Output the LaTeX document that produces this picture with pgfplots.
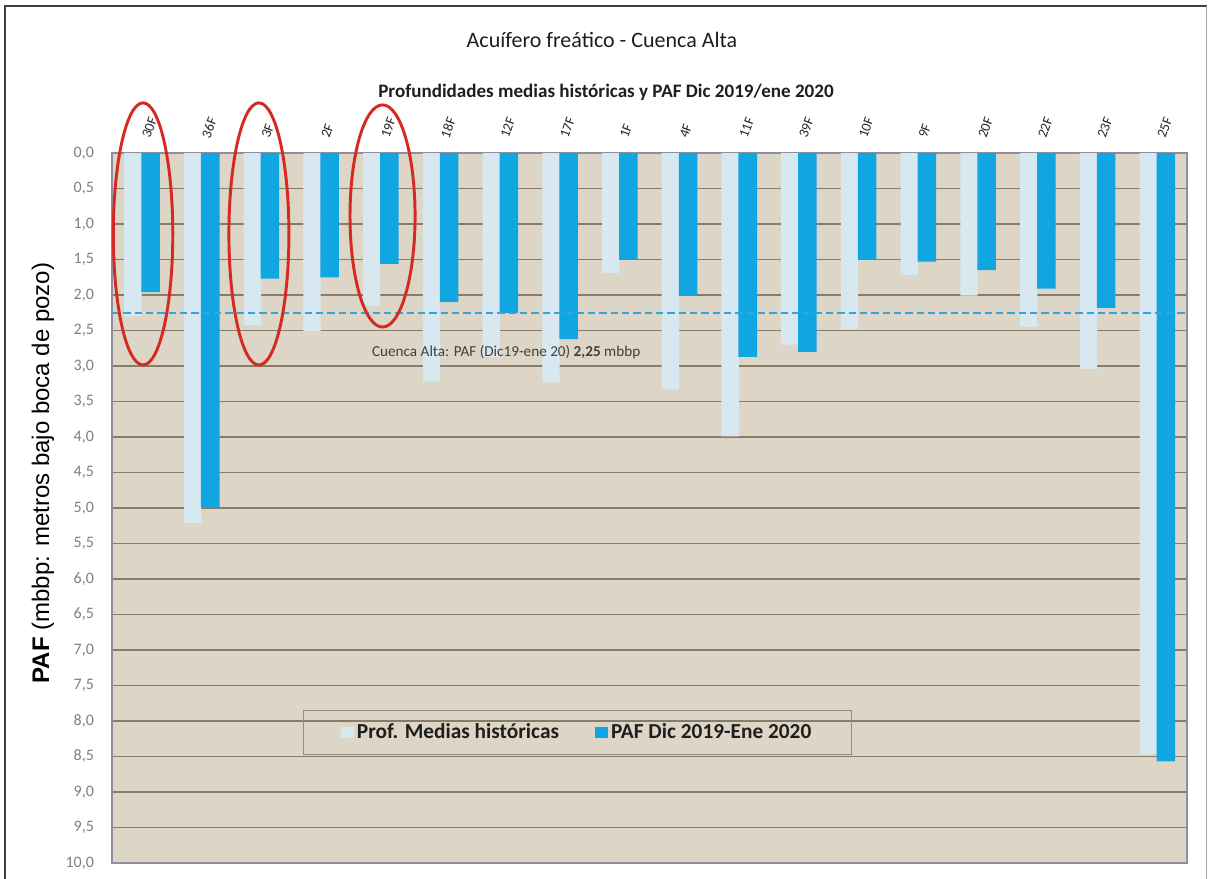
\documentclass[border=0pt]{standalone}
\usepackage{pgfplots}
\pgfplotsset{compat=1.18}
\usepackage{fontspec}
\setmainfont{Carlito}
\newfontfamily\arialfont{Liberation Sans}

\definecolor{bgbeige}{HTML}{DDD5C6}
\definecolor{gridbrown}{HTML}{877B6C}
\definecolor{histc}{HTML}{D7E8F1}
\definecolor{pafc}{HTML}{0FA6E2}
\definecolor{dashc}{HTML}{34A3DF}
\definecolor{ellred}{HTML}{D42A22}
\definecolor{tickgray}{HTML}{7F7F7F}
\definecolor{textdark}{HTML}{1E1E1E}
\definecolor{annot}{HTML}{404040}
\definecolor{framegray}{HTML}{8E8E9E}

\pgfplotsset{sqlegend/.style={legend image code/.code={\fill[##1] (0pt,-4pt) rectangle (10pt,4.5pt);}}}

\begin{document}
\begin{tikzpicture}
% page: 906pt x 659.25pt
\useasboundingbox (0,0) rectangle (906pt,659.25pt);
% outer frame
\draw[black!75, line width=1.5pt] (3.75pt,-5pt) -- (3.75pt,654.4pt) -- (904.9pt,654.4pt);
\draw[black!35, line width=1pt] (904.9pt,654.4pt) -- (904.9pt,-5pt);

\node[text=textdark, font=\fontsize{16.5}{19}\selectfont] at (451.5pt,629.25pt) {Acuífero freático - Cuenca Alta};
\node[text=textdark, font=\bfseries\fontsize{14.3}{17}\selectfont] at (454.5pt,590.25pt) {Profundidades medias históricas y PAF Dic 2019/ene 2020};
\node[rotate=90, text=black, font=\arialfont\fontsize{18}{21}\selectfont] at (32.25pt,304.5pt) {\textbf{PAF} (mbbp: metros bajo boca de pozo)};

\begin{axis}[
  at={(84pt,12pt)}, anchor=south west,
  width=806.25pt, height=532.5pt, scale only axis,
  clip=false,
  xmin=-0.5, xmax=17.5, ymin=0, ymax=10, y dir=reverse,
  xtick={0,1,...,17},
  xticklabels={30F,36F,3F,2F,19F,18F,12F,17F,1F,4F,11F,39F,10F,9F,20F,22F,23F,25F},
  xticklabel pos=upper,
  xticklabel style={xshift=3pt, yshift=11.5pt, rotate=70, anchor=west, inner sep=0pt,
    font=\fontsize{10.5}{12}\selectfont, text=black!85},
  ytick={0,0.5,1,1.5,2,2.5,3,3.5,4,4.5,5,5.5,6,6.5,7,7.5,8,8.5,9,9.5,10},
  yticklabel style={font=\fontsize{12}{14}\selectfont, text=tickgray, xshift=-10pt,
    /pgf/number format/.cd, fixed, fixed zerofill, precision=1, use comma, assume math mode=true},
  tick style={draw=none},
  ymajorgrids,
  grid style={draw=gridbrown, line width=1pt},
  axis background/.style={fill=bgbeige},
  axis line style={draw=framegray, line width=0.8pt},
  legend style={at={(0.4330,0.1838)}, anchor=center, draw=black!45, fill=none,
    font=\bfseries\fontsize{16}{19}\selectfont, text=textdark,
    inner xsep=28pt, inner ysep=8pt,
    /tikz/every even column/.append style={column sep=25pt}},
  legend columns=2,
]
% historical mean depths
\addplot[ybar, bar width=0.29, bar shift=-0.15, fill=histc, draw=none, sqlegend] coordinates {
  (0,2.30) (1,5.21) (2,2.42) (3,2.51) (4,2.15) (5,3.22) (6,2.87) (7,3.23) (8,1.69)
  (9,3.33) (10,3.99) (11,2.70) (12,2.48) (13,1.72) (14,2.01) (15,2.45) (16,3.04) (17,8.47)
};
\addlegendentry{Prof. Medias históricas}
% PAF Dec 2019 - Jan 2020
\addplot[ybar, bar width=0.31, bar shift=0.145, fill=pafc, draw=none, sqlegend] coordinates {
  (0,1.96) (1,4.99) (2,1.77) (3,1.75) (4,1.56) (5,2.10) (6,2.25) (7,2.62) (8,1.50)
  (9,2.01) (10,2.87) (11,2.80) (12,1.50) (13,1.53) (14,1.65) (15,1.91) (16,2.18) (17,8.57)
};
\addlegendentry{PAF Dic 2019-Ene 2020}

% basin mean PAF
\addplot[dashc, line width=1.5pt, dash pattern=on 5.5pt off 3pt, forget plot] coordinates {(-0.5,2.25) (17.5,2.25)};

% label of the basin mean
\node[anchor=west, inner sep=0pt, text=annot, font=\fontsize{11.4}{13}\selectfont]
  at (axis cs:3.85,2.8) {Cuenca Alta: PAF (Dic19-ene 20) \textbf{2,25} mbbp};

% highlighted wells
\draw[ellred, line width=2.2pt] (axis cs:0.02,1.14) ellipse [x radius=22.3pt, y radius=98.3pt];
\draw[ellred, line width=2.2pt] (axis cs:1.96,1.14) ellipse [x radius=22.5pt, y radius=98.3pt];
\draw[ellred, line width=2.2pt] (axis cs:4.03,0.887) ellipse [x radius=24.4pt, y radius=83.3pt];
\end{axis}
\end{tikzpicture}
\end{document}
